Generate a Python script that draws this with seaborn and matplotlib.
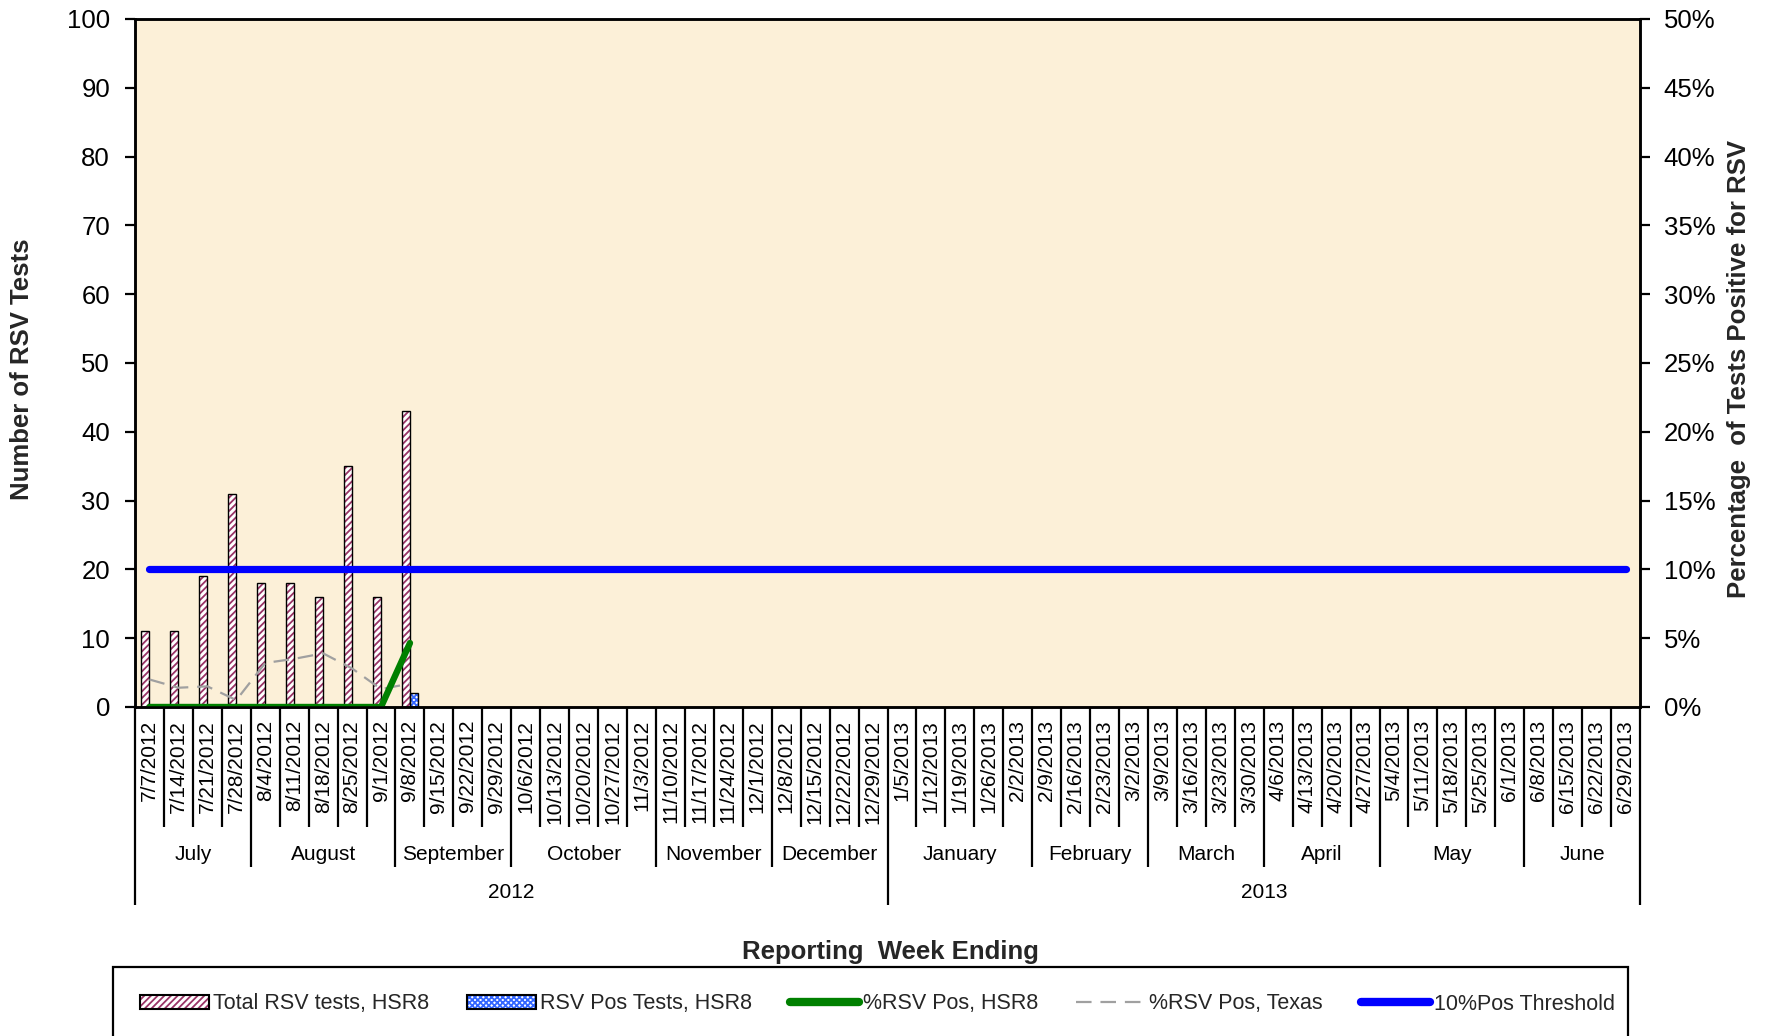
import numpy as np
import pandas as pd
import matplotlib
matplotlib.use("Agg")
import matplotlib.pyplot as plt
import matplotlib.transforms as mtrans
from matplotlib.patches import Patch, Rectangle
from matplotlib.lines import Line2D
from matplotlib.legend_handler import HandlerTuple
from matplotlib.ticker import PercentFormatter
import seaborn as sns

# ---------------- data ----------------
weeks = ["7/7/2012", "7/14/2012", "7/21/2012", "7/28/2012",
         "8/4/2012", "8/11/2012", "8/18/2012", "8/25/2012", "9/1/2012",
         "9/8/2012", "9/15/2012", "9/22/2012", "9/29/2012",
         "10/6/2012", "10/13/2012", "10/20/2012", "10/27/2012", "11/3/2012",
         "11/10/2012", "11/17/2012", "11/24/2012", "12/1/2012",
         "12/8/2012", "12/15/2012", "12/22/2012", "12/29/2012",
         "1/5/2013", "1/12/2013", "1/19/2013", "1/26/2013", "2/2/2013",
         "2/9/2013", "2/16/2013", "2/23/2013", "3/2/2013",
         "3/9/2013", "3/16/2013", "3/23/2013", "3/30/2013",
         "4/6/2013", "4/13/2013", "4/20/2013", "4/27/2013",
         "5/4/2013", "5/11/2013", "5/18/2013", "5/25/2013", "6/1/2013",
         "6/8/2013", "6/15/2013", "6/22/2013", "6/29/2013"]
months = ["July", "August", "September", "October", "November", "December",
          "January", "February", "March", "April", "May", "June"]
month_counts = [4, 5, 4, 5, 4, 4, 5, 4, 4, 4, 5, 4]
years = ["2012", "2013"]
year_counts = [26, 26]

n = len(weeks)
nan = np.nan
total_tests = [11, 11, 19, 31, 18, 18, 16, 35, 16, 43] + [nan] * (n - 10)
pos_tests = [0, 0, 0, 0, 0, 0, 0, 0, 0, 2] + [nan] * (n - 10)
pct_pos_hsr8 = [0, 0, 0, 0, 0, 0, 0, 0, 0, 0.0465] + [nan] * (n - 10)
pct_pos_texas = [0.020, 0.014, 0.015, 0.005, 0.032, 0.035, 0.039, 0.028,
                 0.013, 0.017] + [nan] * (n - 10)
threshold = [0.10] * n

series_names = ["Total RSV tests, HSR8", "RSV Pos Tests, HSR8",
                "%RSV Pos, HSR8", "%RSV Pos, Texas", "10%Pos Threshold"]

# ---------------- style ----------------
sns.set_theme(style="white")
plt.rcParams["font.family"] = ["Liberation Sans", "DejaVu Sans"]
plt.rcParams["hatch.linewidth"] = 1.3

W, H = 1767, 1036
fig = plt.figure(figsize=(W / 100, H / 100), dpi=100)
left_px, right_px, top_px, bot_px = 135, 1640, 19, 707
ax = fig.add_axes([left_px / W, 1 - bot_px / H,
                   (right_px - left_px) / W, (bot_px - top_px) / H])
ax.set_facecolor("#FCF0D8")

maroon = "#993366"
chk_blue = "#3366FF"
total_hatch = "/////"
pos_hatch = "xxxxxx"

df = pd.DataFrame({
    "week": weeks * 2,
    "value": total_tests + pos_tests,
    "series": [series_names[0]] * n + [series_names[1]] * n,
})
sns.barplot(data=df, x="week", y="value", hue="series", order=weeks,
            hue_order=series_names[:2], width=0.57, palette=["white", "white"],
            saturation=1, errorbar=None, legend=False, linewidth=0, ax=ax)

for cont, hcol, hatch in zip(ax.containers, [maroon, chk_blue], [total_hatch, pos_hatch]):
    for p in cont.patches:
        if np.isnan(p.get_height()):
            continue
        p.set_hatch(hatch)
        p.set_edgecolor(hcol)
        p.set_linewidth(0)
        ax.add_patch(Rectangle(p.get_xy(), p.get_width(), p.get_height(),
                               fill=False, edgecolor="black", linewidth=1.0,
                               zorder=p.get_zorder() + 0.1))

ax.set_xlim(-0.5, n - 0.5)
ax.set_ylim(0, 100)
ax.set_yticks(range(0, 101, 10))
ax.set_xticks([])
ax.set_xlabel("")
ax.set_ylabel("")
ax.tick_params(axis="y", left=True, direction="out", length=7, width=1.6,
               labelsize=18.5, pad=11, colors="black")

# secondary axis
ax2 = ax.twinx()
x = np.arange(n)
sns.lineplot(x=x, y=pct_pos_texas, ax=ax2, color="#A0A0A0", linewidth=1.6)
ax2.lines[-1].set_dashes((7, 4))
sns.lineplot(x=x, y=pct_pos_hsr8, ax=ax2, color="#008000", linewidth=4.6)
ax2.lines[-1].set_solid_capstyle("round")
sns.lineplot(x=x, y=threshold, ax=ax2, color="#0000FF", linewidth=5.2)
ax2.lines[-1].set_solid_capstyle("round")
ax2.set_ylim(0, 0.5)
ax2.set_yticks(np.arange(0, 0.51, 0.05))
ax2.yaxis.set_major_formatter(PercentFormatter(1, decimals=0))
ax2.set_xlim(-0.5, n - 0.5)
ax2.set_ylabel("")
ax2.tick_params(axis="y", right=True, direction="out", length=7, width=1.6,
                labelsize=18.5, pad=10, colors="black")

for a in (ax, ax2):
    for s in a.spines.values():
        s.set_visible(True)
        s.set_color("black")
        s.set_linewidth(1.8)

# ---------------- multi-level category axis ----------------
trans = mtrans.blended_transform_factory(ax.transData, ax.transAxes)
ax_h = bot_px - top_px
week_depth = -120 / ax_h
month_depth = -160 / ax_h
year_depth = -198 / ax_h

month_bounds = set(np.cumsum([0] + month_counts))
year_bounds = set(np.cumsum([0] + year_counts))
for i in range(n + 1):
    d = week_depth
    if i in month_bounds:
        d = month_depth
    if i in year_bounds:
        d = year_depth
    ax.plot([i - 0.5, i - 0.5], [0, d], transform=trans, color="black",
            lw=1.6, clip_on=False, solid_capstyle="butt")

for i, w in enumerate(weeks):
    ax.text(i, -13 / ax_h, w, transform=trans, rotation=90, ha="center",
            va="top", fontsize=15, color="black")

start = 0
for m, c in zip(months, month_counts):
    ax.text(start + c / 2 - 0.5, -148 / ax_h, m, transform=trans, ha="center",
            va="center", fontsize=15, color="black")
    start += c
start = 0
for y, c in zip(years, year_counts):
    ax.text(start + c / 2 - 0.5, -186 / ax_h, y, transform=trans, ha="center",
            va="center", fontsize=15, color="black")
    start += c

# ---------------- titles ----------------
fig.text(22.5 / W, 1 - 369 / H, "Number of RSV Tests", rotation=90,
         ha="center", va="center", fontsize=18.5, fontweight="bold")
fig.text(1739 / W, 1 - 369 / H, "Percentage  of Tests Positive for RSV",
         rotation=90, ha="center", va="center", fontsize=18.5, fontweight="bold")
fig.text(890 / W, 1 - 952 / H, "Reporting  Week Ending", ha="center",
         va="center", fontsize=18.5, fontweight="bold")

# ---------------- legend ----------------
handles = [
    (Patch(facecolor="white", edgecolor=maroon, hatch=total_hatch, linewidth=0),
     Patch(fill=False, edgecolor="black", linewidth=1.5)),
    (Patch(facecolor="white", edgecolor=chk_blue, hatch=pos_hatch, linewidth=0),
     Patch(fill=False, edgecolor="black", linewidth=1.5)),
    Line2D([], [], color="#008000", lw=6, solid_capstyle="round"),
    Line2D([], [], color="#A0A0A0", lw=1.6, dashes=(7, 4)),
    Line2D([], [], color="#0000FF", lw=6, solid_capstyle="round"),
]
fig.legend(handles, series_names, loc="center",
           bbox_to_anchor=(0.4966, 1 - 1004 / H), ncol=5, frameon=False,
           fontsize=15.5, handlelength=3.2, handleheight=0.6,
           handletextpad=0.2, columnspacing=1.75,
           handler_map={tuple: HandlerTuple(ndivide=1, pad=0)})
fig.add_artist(Rectangle((113 / W, -0.1), (1628 - 113) / W, 0.1 + (1 - 967 / H),
                         transform=fig.transFigure, fill=False,
                         edgecolor="black", linewidth=1.6, clip_on=False))

fig.savefig("out.png", dpi=100, facecolor="white")
